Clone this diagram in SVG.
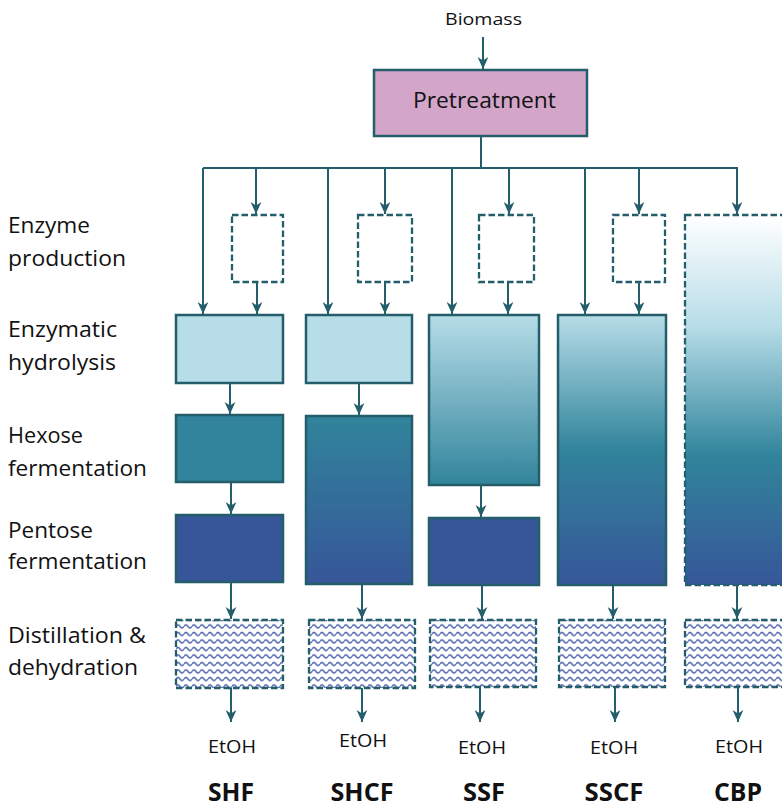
<svg xmlns="http://www.w3.org/2000/svg" width="782" height="807" viewBox="0 0 782 807">
<style>
text{font-family:"Open Sans","Liberation Sans",sans-serif;fill:#111;}
.lbl{font-size:21px;}
.etoh{font-size:19px;text-anchor:middle;}
.name{font-size:25px;font-weight:bold;text-anchor:middle;}
.solid{stroke:#255E6B;stroke-width:2.5;}
.dash{stroke:#255E6B;stroke-width:2.3;stroke-dasharray:6.5 3;}
.conn path{fill:none;stroke:#255E6B;stroke-width:2;}
.arr{marker-end:url(#ah);}
</style>
<defs>
<marker id="ah" markerUnits="userSpaceOnUse" markerWidth="12" markerHeight="12" viewBox="0 0 10 10" refX="10" refY="5" orient="auto">
<path d="M0,0.5 L10,5 L0,9.5 L3,5 z" fill="#255E6B"/>
</marker>
<pattern id="wave" patternUnits="userSpaceOnUse" width="8" height="7.5" x="0" y="0">
<rect width="8" height="7.5" fill="#fff"/>
<path d="M0,4 Q2,1 4,4 T8,4" fill="none" stroke="#5266AF" stroke-width="1.5"/>
</pattern>
<linearGradient id="gSHCF" x1="0" y1="0" x2="0" y2="1">
<stop offset="0" stop-color="#31849B"/><stop offset="1" stop-color="#365699"/>
</linearGradient>
<linearGradient id="gSSF" x1="0" y1="0" x2="0" y2="1">
<stop offset="0" stop-color="#B7DDE8"/><stop offset="1" stop-color="#31849B"/>
</linearGradient>
<linearGradient id="gSSCF" x1="0" y1="0" x2="0" y2="1">
<stop offset="0" stop-color="#B7DDE8"/><stop offset="0.5" stop-color="#31849B"/><stop offset="1" stop-color="#365699"/>
</linearGradient>
<linearGradient id="gCBP" x1="0" y1="0" x2="0" y2="1">
<stop offset="0" stop-color="#FFFFFF"/><stop offset="0.3" stop-color="#B7DDE8"/><stop offset="0.65" stop-color="#31849B"/><stop offset="1" stop-color="#365699"/>
</linearGradient>
</defs>
<rect width="782" height="807" fill="#fff"/>

<g id="labels">
<text class="lbl" x="8" y="233" textLength="82" lengthAdjust="spacingAndGlyphs">Enzyme</text>
<text class="lbl" x="8" y="266" textLength="118" lengthAdjust="spacingAndGlyphs">production</text>
<text class="lbl" x="8" y="337" textLength="109" lengthAdjust="spacingAndGlyphs">Enzymatic</text>
<text class="lbl" x="8" y="370" textLength="108" lengthAdjust="spacingAndGlyphs">hydrolysis</text>
<text class="lbl" x="8" y="443" textLength="75" lengthAdjust="spacingAndGlyphs">Hexose</text>
<text class="lbl" x="8" y="476" textLength="139" lengthAdjust="spacingAndGlyphs">fermentation</text>
<text class="lbl" x="8" y="538" textLength="85" lengthAdjust="spacingAndGlyphs">Pentose</text>
<text class="lbl" x="8" y="569" textLength="139" lengthAdjust="spacingAndGlyphs">fermentation</text>
<text class="lbl" x="8" y="643" textLength="138" lengthAdjust="spacingAndGlyphs">Distillation &amp;</text>
<text class="lbl" x="8" y="675" textLength="130" lengthAdjust="spacingAndGlyphs">dehydration</text>
</g>

<g id="biomass"><text x="445" y="25" font-size="17" textLength="77" lengthAdjust="spacingAndGlyphs">Biomass</text></g>
<g id="pretreatment">
<rect x="374" y="70" width="213" height="66" fill="#D2A5C9" class="solid"/>
<text x="413" y="108" font-size="21" textLength="143" lengthAdjust="spacingAndGlyphs">Pretreatment</text>
</g>

<g id="enzyme-boxes">
<rect x="232" y="215" width="51" height="67" fill="#fff" class="dash"/>
<rect x="358" y="215" width="54" height="67" fill="#fff" class="dash"/>
<rect x="479" y="215" width="55" height="67" fill="#fff" class="dash"/>
<rect x="613" y="215" width="52" height="67" fill="#fff" class="dash"/>
</g>

<g id="shf">
<rect x="176" y="315" width="107" height="68" fill="#B7DDE8" class="solid"/>
<rect x="176" y="415" width="107" height="67" fill="#31849B" class="solid"/>
<rect x="176" y="515" width="107" height="67" fill="#365699" class="solid"/>
<rect x="176" y="620" width="107" height="68" fill="url(#wave)" class="dash"/>
</g>
<g id="shcf">
<rect x="306" y="315" width="106" height="68" fill="#B7DDE8" class="solid"/>
<rect x="306" y="416" width="106" height="168" fill="url(#gSHCF)" class="solid"/>
<rect x="309" y="620" width="106" height="68" fill="url(#wave)" class="dash"/>
</g>
<g id="ssf">
<rect x="429" y="315" width="110" height="170" fill="url(#gSSF)" class="solid"/>
<rect x="429" y="518" width="110" height="67" fill="#365699" class="solid"/>
<rect x="430" y="620" width="106" height="67" fill="url(#wave)" class="dash"/>
</g>
<g id="sscf">
<rect x="558" y="315" width="108" height="270" fill="url(#gSSCF)" class="solid"/>
<rect x="559" y="620" width="106" height="67" fill="url(#wave)" class="dash"/>
</g>
<g id="cbp">
<rect x="685" y="215" width="108" height="370" fill="url(#gCBP)" class="dash"/>
<rect x="685" y="620" width="108" height="67" fill="url(#wave)" class="dash"/>
</g>

<g class="conn" id="connectors">
<path class="arr" d="M483,37 V69"/>
<path d="M481,136 V168"/>
<path d="M203,168 H738"/>
<path class="arr" d="M203,168 V314"/>
<path class="arr" d="M256,168 V214"/>
<path class="arr" d="M328,168 V314"/>
<path class="arr" d="M385,168 V214"/>
<path class="arr" d="M452,168 V314"/>
<path class="arr" d="M509,168 V214"/>
<path class="arr" d="M585,168 V314"/>
<path class="arr" d="M639,168 V214"/>
<path class="arr" d="M737,168 V214"/>
<path class="arr" d="M257,282 V314"/>
<path class="arr" d="M385,282 V314"/>
<path class="arr" d="M508,282 V314"/>
<path class="arr" d="M639,282 V314"/>
<path class="arr" d="M230,383 V414"/>
<path class="arr" d="M231,482 V514"/>
<path class="arr" d="M231,582 V619"/>
<path class="arr" d="M231,688 V722"/>
<path class="arr" d="M359,383 V415"/>
<path class="arr" d="M362,584 V619"/>
<path class="arr" d="M362,688 V722"/>
<path class="arr" d="M481,485 V517"/>
<path class="arr" d="M482,585 V619"/>
<path class="arr" d="M480,687 V722"/>
<path class="arr" d="M613,585 V619"/>
<path class="arr" d="M615,687 V722"/>
<path class="arr" d="M737,585 V619"/>
<path class="arr" d="M738,687 V722"/>
</g>

<g id="outputs">
<text class="etoh" x="232" y="753" textLength="48" lengthAdjust="spacingAndGlyphs">EtOH</text>
<text class="etoh" x="363" y="747" textLength="48" lengthAdjust="spacingAndGlyphs">EtOH</text>
<text class="etoh" x="482" y="754" textLength="48" lengthAdjust="spacingAndGlyphs">EtOH</text>
<text class="etoh" x="614" y="754" textLength="48" lengthAdjust="spacingAndGlyphs">EtOH</text>
<text class="etoh" x="739" y="753" textLength="48" lengthAdjust="spacingAndGlyphs">EtOH</text>
</g>
<g id="process-names">
<text class="name" x="231" y="801" textLength="46" lengthAdjust="spacingAndGlyphs">SHF</text>
<text class="name" x="362" y="801" textLength="63" lengthAdjust="spacingAndGlyphs">SHCF</text>
<text class="name" x="484" y="801" textLength="42" lengthAdjust="spacingAndGlyphs">SSF</text>
<text class="name" x="614" y="801" textLength="59" lengthAdjust="spacingAndGlyphs">SSCF</text>
<text class="name" x="738" y="801" textLength="48" lengthAdjust="spacingAndGlyphs">CBP</text>
</g>
</svg>
